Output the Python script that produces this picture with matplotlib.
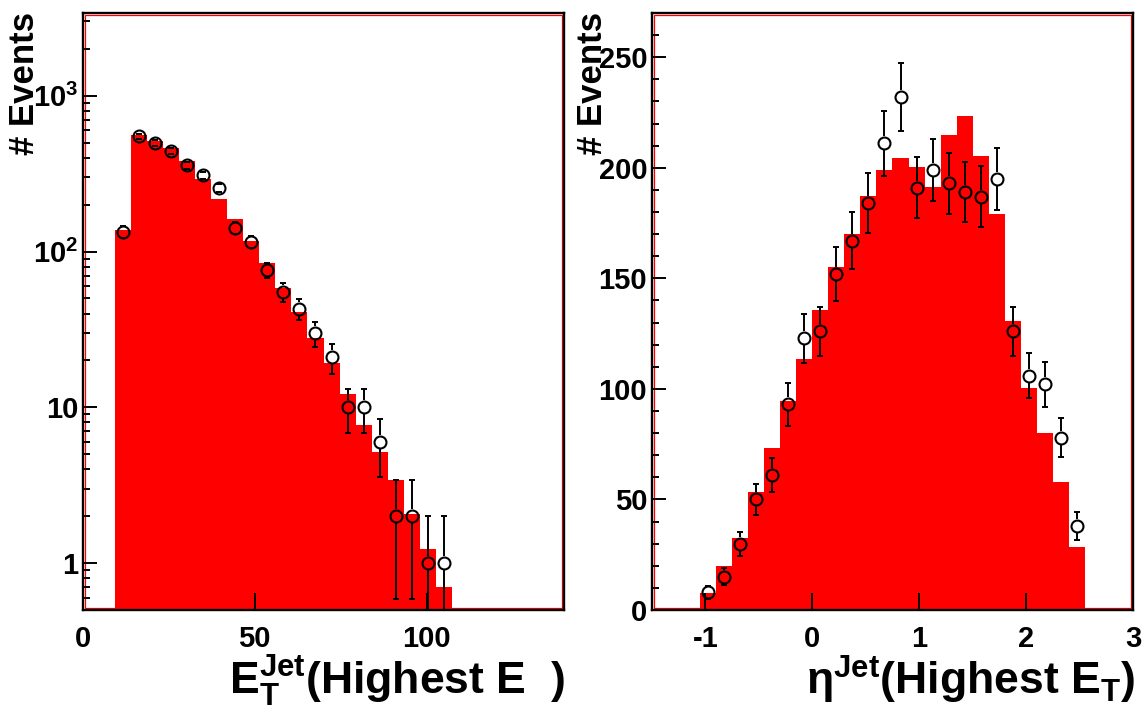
import numpy as np
import matplotlib
matplotlib.use("Agg")
import matplotlib.pyplot as plt
from matplotlib.patches import Rectangle
from matplotlib.ticker import FixedLocator, FixedFormatter, LogLocator, NullFormatter, MultipleLocator

# Jet E_T histogram: 30 bins over 0..140, bins 2..22 are filled
et_nbins = 30
et_range = (0.0, 140.0)
et_first_bin = 2
et_mc = [138, 560, 514, 462, 379, 291, 219, 161, 117, 84, 58, 41, 28,
         19.2, 12.2, 7.7, 5.2, 3.4, 2.08, 1.23, 0.70]
et_data = [134, 548, 495, 442, 357, 308, 257, 142, 116, 76, 55, 43, 30,
           21, 10, 10, 6, 2, 2, 1, 1]

# Jet eta histogram: 30 bins over -1.5..3, bins 3..26 are filled
eta_nbins = 30
eta_range = (-1.5, 3.0)
eta_first_bin = 3
eta_mc = [7.7, 20.0, 32.7, 53.4, 73.3, 94.7, 113.6, 135.7, 155.3, 170.1, 187.1, 199.2,
          204.5, 200.2, 191.5, 214.7, 223.2, 205.5, 179.2, 130.6, 100.4, 79.9, 57.9, 28.3]
eta_data = [8, 15, 30, 50, 61, 93, 123, 126, 152, 167, 184, 211,
            232, 191, 199, 193, 189, 187, 195, 126, 106, 102, 78, 38]

plt.rcParams["font.family"] = ["Liberation Sans", "DejaVu Sans"]
plt.rcParams["font.weight"] = "bold"
plt.rcParams["mathtext.fontset"] = "custom"
plt.rcParams["mathtext.rm"] = "Liberation Sans"
plt.rcParams["mathtext.bf"] = "Liberation Sans:bold"
plt.rcParams["mathtext.it"] = "Liberation Sans:italic"
plt.rcParams["axes.unicode_minus"] = False

MS = 8.6      # marker diameter (pt)
MEW = 1.5
ELW = 1.4
CAP = 4.8
TICK_FS = 21
DPI = 100


def edges_for(nbins, rng, first, count):
    all_edges = np.linspace(rng[0], rng[1], nbins + 1)
    return all_edges[first:first + count + 1]


def setup_frame(ax):
    for sp in ax.spines.values():
        sp.set_linewidth(1.7)
        sp.set_color("black")
        sp.set_zorder(5)
    # ROOT-style red inner frame line
    bb = ax.get_position()
    w_px = bb.width * ax.figure.get_figwidth() * DPI
    h_px = bb.height * ax.figure.get_figheight() * DPI
    dx, dy = 1.8 / w_px, 1.8 / h_px
    ax.add_patch(Rectangle((dx, dy), 1 - 2 * dx, 1 - 2 * dy, transform=ax.transAxes,
                           fill=False, edgecolor="red", linewidth=0.9, zorder=0.5))
    ax.set_axisbelow(False)
    ax.tick_params(axis="both", which="both", direction="in", top=False, right=False,
                   width=1.4, labelsize=TICK_FS, zorder=6)
    ax.tick_params(axis="y", which="major", length=10, pad=3.5)
    ax.tick_params(axis="y", which="minor", length=5)
    ax.tick_params(axis="x", which="major", length=12.5, pad=11)
    ax.tick_params(axis="x", which="minor", length=0)


def draw_points(ax, x, n, log=False):
    x = np.asarray(x, dtype=float)
    n = np.asarray(n, dtype=float)
    err = np.sqrt(n)
    ymin = ax.get_ylim()[0]
    r = (MS / 2 + MEW / 2) * DPI / 72.0
    fwd = ax.transData
    inv = ax.transData.inverted()
    xs, y0s, y1s = [], [], []
    for xi, yi, ei in zip(x, n, err):
        lo = yi - ei
        if log and lo <= 0:
            lo = ymin / 100.0
        xd, yd = fwd.transform((xi, yi))
        ytop = fwd.transform((xi, yi + ei))[1]
        ybot = fwd.transform((xi, lo))[1]
        # like ROOT: no error line inside the hollow marker
        if ytop - yd > r:
            xs.append(xi)
            y0s.append(inv.transform((xd, yd + r))[1])
            y1s.append(yi + ei)
        if yd - ybot > r:
            xs.append(xi)
            y0s.append(inv.transform((xd, yd - r))[1])
            y1s.append(lo)
    ax.vlines(xs, y0s, y1s, color="black", linewidth=ELW, zorder=3)
    lo_all = n - err
    ax.plot(x, n + err, ls="none", marker="_", ms=CAP, mew=ELW, color="black", zorder=3)
    keep = lo_all > (ymin if log else -1e9)
    ax.plot(x[keep], lo_all[keep], ls="none", marker="_", ms=CAP, mew=ELW, color="black", zorder=3)
    ax.plot(x, n, ls="none", marker="o", mfc="none", mec="black", ms=MS, mew=MEW, zorder=4)


fig = plt.figure(figsize=(11.48, 7.13), dpi=DPI)
ax1 = fig.add_axes([83 / 1148, 1 - 610 / 713, 481 / 1148, 597 / 713])
ax2 = fig.add_axes([652 / 1148, 1 - 610 / 713, 481 / 1148, 597 / 713])

# ---- left: E_T, log scale
ax1.set_yscale("log")
ax1.set_xlim(*et_range)
ax1.set_ylim(0.5, 3400)
e1 = edges_for(et_nbins, et_range, et_first_bin, len(et_mc))
ax1.stairs(et_mc, e1, fill=True, color="red", baseline=1e-3, zorder=1)
setup_frame(ax1)
ax1.xaxis.set_major_locator(MultipleLocator(50))
ax1.yaxis.set_major_locator(FixedLocator([1, 10, 100, 1000]))
ax1.yaxis.set_major_formatter(FixedFormatter(["1", "10", r"$\mathbf{10}^{2}$", r"$\mathbf{10}^{3}$"]))
ax1.yaxis.set_minor_locator(LogLocator(base=10, subs=np.arange(2, 10), numticks=20))
ax1.yaxis.set_minor_formatter(NullFormatter())
draw_points(ax1, (e1[:-1] + e1[1:]) / 2, et_data, log=True)

# ---- right: eta, linear scale
ax2.set_xlim(*eta_range)
ax2.set_ylim(0, 270)
e2 = edges_for(eta_nbins, eta_range, eta_first_bin, len(eta_mc))
ax2.stairs(eta_mc, e2, fill=True, color="red", baseline=0, zorder=1)
setup_frame(ax2)
ax2.xaxis.set_major_locator(MultipleLocator(1))
ax2.yaxis.set_major_locator(MultipleLocator(50))
ax2.yaxis.set_minor_locator(MultipleLocator(10))
draw_points(ax2, (e2[:-1] + e2[1:]) / 2, eta_data)

# axis titles, ROOT style (y at top, x at right end)
fig.text(25 / 1148, 1 - 12 / 713, "# Events", rotation=90, ha="center", va="top", fontsize=25)
fig.text(593 / 1148, 1 - 12 / 713, "# Events", rotation=90, ha="center", va="top", fontsize=25)
fig.text(565 / 1148, 1 - 695 / 713, r"$\mathbf{E}^{\mathbf{Jet}}_{\mathbf{T}}$(Highest E  )",
         ha="right", va="baseline", fontsize=32)
fig.text(1135 / 1148, 1 - 695 / 713, r"$\mathrm{\eta}^{\mathbf{Jet}}$(Highest E$_{\mathbf{T}}$)",
         ha="right", va="baseline", fontsize=32)

fig.savefig("out.png", dpi=DPI)
plt.close(fig)
